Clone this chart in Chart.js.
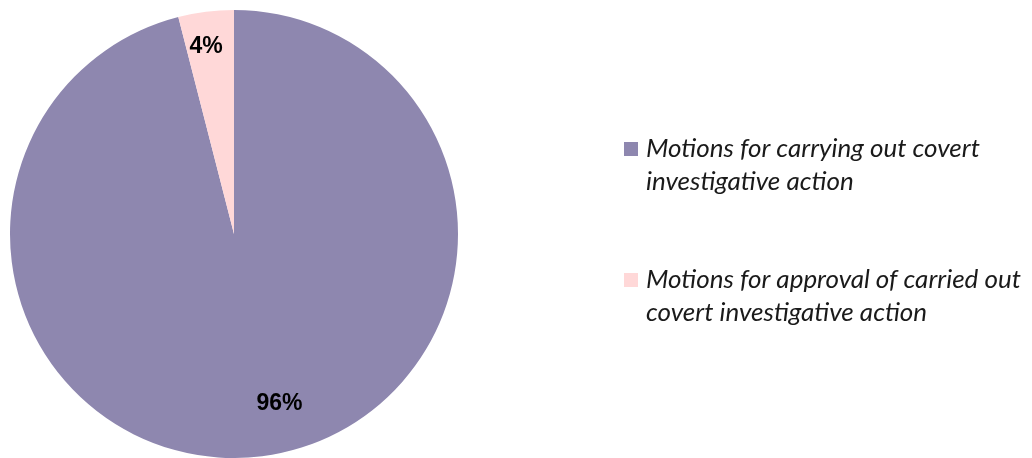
<!DOCTYPE html>
<html>
<head>
<meta charset="utf-8">
<script src="https://cdn.jsdelivr.net/npm/chart.js@4/dist/chart.umd.min.js"></script>
<style>
  html, body { margin: 0; padding: 0; background: #fff; }
  #wrap { width: 1032px; height: 458px; position: relative; }
</style>
</head>
<body>
<div id="wrap"><canvas id="myChart" width="1032" height="458"></canvas></div>
<script>
'use strict';
const categories = [
  ['Motions for carrying out covert', 'investigative action'],
  ['Motions for approval of carried out', 'covert investigative action']
];
const shares = [96, 4];
const sliceColors = ['#8E87AF', '#FFD8D8'];

// where each percentage sits: angle (deg, clockwise from top) and fraction of radius
const labelAngles = [165, 351.5];
const labelRadius = [0.785, 0.845];

const pctLabels = {
  id: 'pctLabels',
  afterDatasetsDraw(chart) {
    const ctx = chart.ctx;
    const meta = chart.getDatasetMeta(0);
    ctx.save();
    ctx.font = 'bold 23px "Liberation Sans", Arial, sans-serif';
    ctx.fillStyle = '#000';
    ctx.textAlign = 'center';
    ctx.textBaseline = 'middle';
    meta.data.forEach((arc, i) => {
      const a = labelAngles[i] * Math.PI / 180;
      const r = arc.outerRadius * labelRadius[i];
      const x = arc.x + r * Math.sin(a);
      const y = arc.y - r * Math.cos(a);
      ctx.fillText(shares[i] + '%', x, y);
    });
    ctx.restore();
  }
};

// legend with wrapped lines, drawn at the right of the pie
const sideLegend = {
  id: 'sideLegend',
  afterDraw(chart) {
    const ctx = chart.ctx;
    const tops = [157, 288];
    ctx.save();
    ctx.font = 'italic 26px Lato, "Open Sans", sans-serif';
    ctx.textBaseline = 'alphabetic';
    ctx.textAlign = 'left';
    categories.forEach((lines, i) => {
      ctx.fillStyle = sliceColors[i];
      ctx.fillRect(624, tops[i] - 15, 14, 14);
      ctx.fillStyle = '#1a1a1a';
      lines.forEach((t, j) => {
        ctx.fillText(t, 646, tops[i] + j * 33);
      });
    });
    ctx.restore();
  }
};

const ctx = document.getElementById('myChart').getContext('2d');
const chart = new Chart(ctx, {
  type: 'pie',
  data: {
    labels: categories,
    datasets: [{
      data: shares,
      backgroundColor: sliceColors,
      borderWidth: 0
    }]
  },
  options: {
    responsive: false,
    animation: false,
    layout: { padding: { top: 10, bottom: 0, left: 10, right: 574 } },
    plugins: {
      legend: { display: false },
      tooltip: { enabled: false }
    }
  },
  plugins: [pctLabels, sideLegend]
});
</script>
</body>
</html>
